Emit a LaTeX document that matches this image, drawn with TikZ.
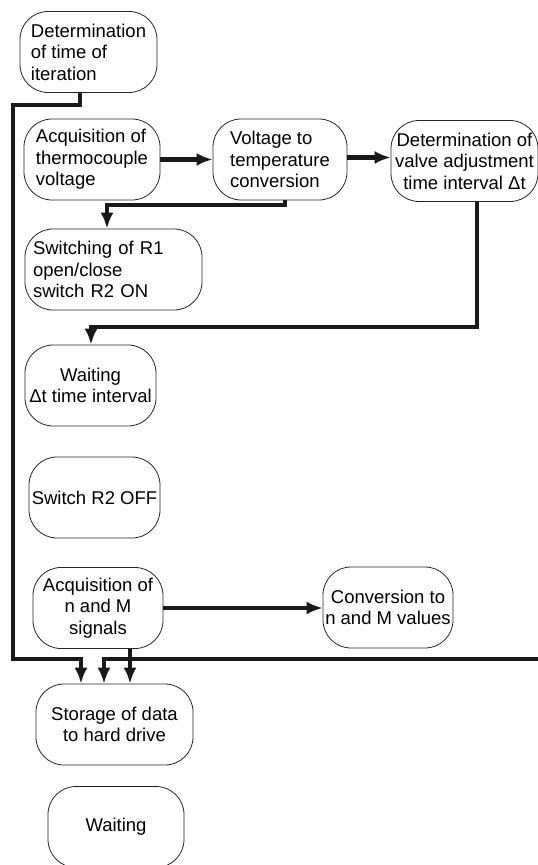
\documentclass[tikz,border=0pt]{standalone}
\usepackage{fontspec}
\setmainfont{Liberation Sans}
\usetikzlibrary{arrows.meta}
\begin{document}
\begin{tikzpicture}[x=1pt,y=-1pt,
  box/.style={draw=black!85, line width=0.8pt, rounded corners=28pt, inner sep=0pt,
    minimum height=81pt, font=\fontsize{18.5}{21.5}\selectfont},
  conn/.style={line width=4.5pt, draw=black!90, -{Latex[length=16pt,width=13pt]}}]
\useasboundingbox (0,0) rectangle (538,865);
\clip (0,0) rectangle (538,865);
\fill[white] (0,0) rectangle (538,865);

\node[box, minimum width=137pt, align=left] (n1) at (88.5,52) {Determination\\of time of\\iteration};
\node[box, minimum width=136pt, align=left] (n2) at (92,159.5) {Acquisition of\\thermocouple\\voltage};
\node[box, minimum width=134pt, align=left] (n3) at (280,159.5) {Voltage to\\temperature\\conversion};
\node[box, minimum width=147pt, align=center] (n4) at (464.5,161) {Determination of\\valve adjustment\\time interval Δt};
\node[box, minimum width=177pt, text width=161pt, align=left] (n5) at (113.5,269.5) {Switching of R1\\open/close\\switch R2 ON};
\node[box, minimum width=131pt, align=center] (n6) at (90.5,385.5) {Waiting\\Δt time interval};
\node[box, minimum width=131pt] (n7) at (94.5,497.5) {Switch R2 OFF};
\node[box, minimum width=130pt, align=center] (n8) at (98,608) {Acquisition of\\n and M\\signals};
\node[box, minimum width=130pt, align=center] (n9) at (388,607.5) {Conversion to\\n and M values};
\node[box, minimum width=157pt, align=center] (n10) at (114.5,724.5) {Storage of data\\to hard drive};
\node[box, minimum width=136pt] (n11) at (116,827) {Waiting};

% thermocouple -> voltage conversion -> valve adjustment
\draw[conn] (n2.east) -- (n2.east -| n3.west);
\draw[conn] ([yshift=2pt]n3.east) -- ([yshift=2pt]n3.east -| n4.west);

% voltage conversion -> switching
\coordinate (c1) at (107,205);
\draw[conn] ([xshift=5pt]n3.south) |- (c1) -- (c1 |- n5.north);

% valve adjustment -> waiting
\coordinate (c2) at (91,327);
\draw[conn] ([xshift=12.5pt]n4.south) |- (c2) -- (c2 |- n6.north);

% acquisition n,M -> conversion
\draw[conn] (n8.east) -- (n8.east -| n9.west);

% time of iteration -> storage
\coordinate (c3) at (13,105);
\coordinate (c4) at (13,659);
\coordinate (c5) at (81,659);
\draw[conn, line join=miter] ([xshift=-8.5pt]n1.south) |- (c3) -- (c4) -- (c5) -- (c5 |- n10.north);

% right edge line -> storage
\coordinate (c6) at (545,659);
\coordinate (c7) at (104,659);
\draw[conn, line join=miter] (c6) -- (c7) -- (c7 |- n10.north);

% acquisition n,M -> storage
\coordinate (d8) at ([xshift=32pt]n8.south);
\draw[conn] (d8) -- (d8 |- n10.north);
\end{tikzpicture}
\end{document}
